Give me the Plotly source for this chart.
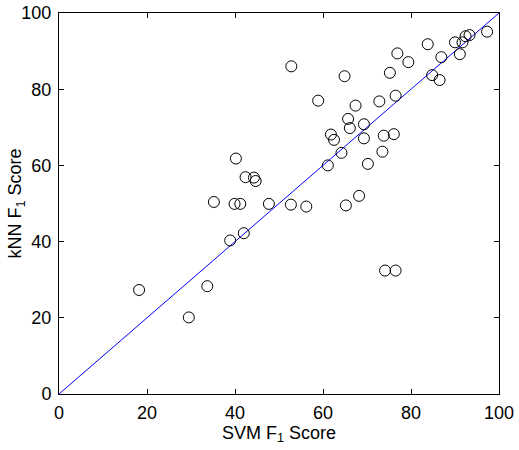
import plotly.graph_objects as go

svm_f1 = [40.2, 42.4, 44.3, 44.7, 35.2, 39.9, 41.2, 47.7,
          52.8, 58.9, 64.9, 67.4, 65.7, 66.1, 69.3, 61.8, 62.5, 69.3, 73.8, 76.1,
          64.2, 73.5, 61.1, 70.2, 68.2, 72.8, 76.5, 75.2, 76.9, 79.4, 83.8, 86.9,
          84.8, 86.5, 90.0, 91.1, 91.7, 92.4, 93.3, 97.3, 52.7, 56.2, 65.2,
          38.9, 42.0, 18.2, 33.7, 29.5, 74.1, 76.5]
knn_f1 = [61.8, 56.9, 56.8, 55.9, 50.4, 49.9, 49.9, 49.9,
          86.0, 77.0, 83.4, 75.7, 72.2, 69.8, 70.8, 68.1, 66.7, 67.1, 67.8, 68.2,
          63.3, 63.6, 60.0, 60.4, 52.0, 76.8, 78.3, 84.3, 89.4, 87.1, 91.8, 88.4,
          83.7, 82.4, 92.3, 89.2, 92.3, 93.9, 94.2, 95.1, 49.7, 49.2, 49.5,
          40.3, 42.2, 27.3, 28.3, 20.1, 32.4, 32.4]
diag = [0, 100]
ticks = [0, 20, 40, 60, 80, 100]

fig = go.Figure()
fig.add_trace(go.Scatter(x=diag, y=diag, mode="lines",
                         line=dict(color="blue", width=1), hoverinfo="skip"))
fig.add_trace(go.Scatter(x=svm_f1, y=knn_f1, mode="markers",
                         marker=dict(symbol="circle-open", size=11,
                                     color="black", line=dict(width=1))))

axis_common = dict(range=[0, 100], tickvals=ticks, ticks="inside", ticklen=5,
                   tickcolor="black", showline=True, linecolor="black", linewidth=1,
                   mirror="ticks", showgrid=False, zeroline=False, automargin=False,
                   tickfont=dict(family="Liberation Sans, Arial", size=18, color="black"))

fig.update_layout(
    width=519, height=450,
    margin=dict(l=59, r=20, t=13, b=56, autoexpand=False),
    plot_bgcolor="white", paper_bgcolor="white",
    showlegend=False,
    font=dict(family="Liberation Sans, Arial", color="black"),
    xaxis=dict(title=dict(text="SVM F<sub>1</sub> Score", font=dict(size=18), standoff=0),
               ticklabelstandoff=2, **axis_common),
    yaxis=dict(ticklabelstandoff=3, **axis_common),
    annotations=[dict(text="kNN F<sub>1</sub> Score", textangle=-90,
                      xref="paper", yref="paper", x=-0.0955, y=0.5,
                      xanchor="center", yanchor="middle", showarrow=False,
                      font=dict(size=18, family="Liberation Sans, Arial", color="black"))],
)
fig.write_html("out.html")
